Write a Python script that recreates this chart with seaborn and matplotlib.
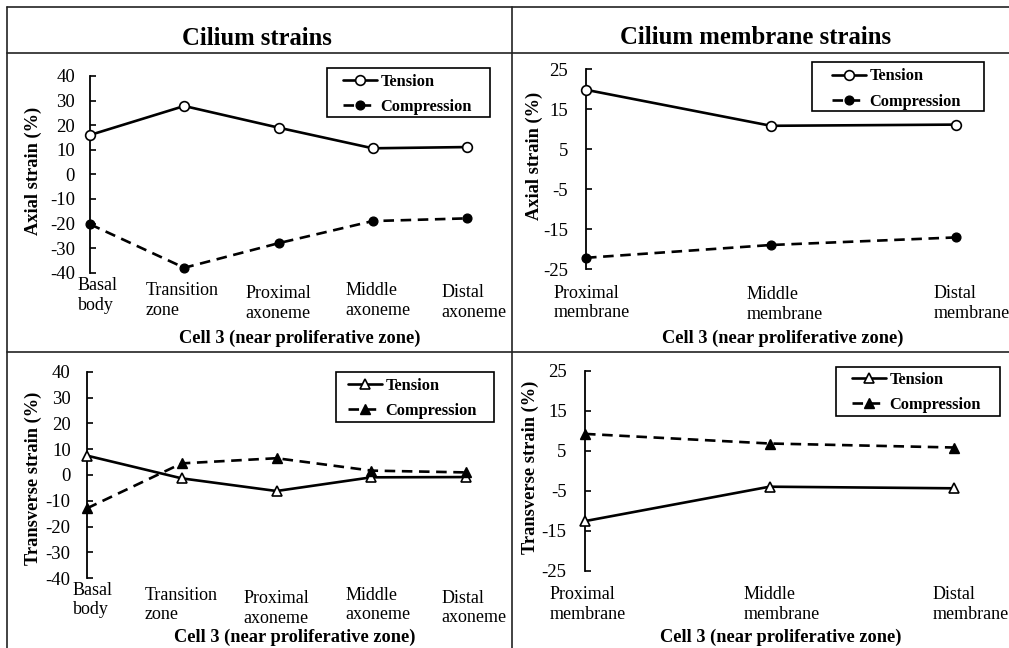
import numpy as np
import pandas as pd
import matplotlib
matplotlib.use("Agg")
import matplotlib.pyplot as plt
from matplotlib.lines import Line2D
from matplotlib.patches import Rectangle
import seaborn as sns

# ---- data -------------------------------------------------------------
cilium_segments = ["Basal\nbody", "Transition\nzone", "Proximal\naxoneme",
                   "Middle\naxoneme", "Distal\naxoneme"]
membrane_segments = ["Proximal\nmembrane", "Middle\nmembrane", "Distal\nmembrane"]

cilium_axial_tension = [16.0, 27.8, 19.0, 10.6, 11.1]
cilium_axial_compression = [-20.3, -38.0, -28.0, -19.0, -17.9]

membrane_axial_tension = [19.8, 10.8, 11.1]
membrane_axial_compression = [-22.2, -19.0, -17.1]

cilium_transverse_tension = [7.5, -1.3, -6.2, -0.9, -0.8]
cilium_transverse_compression = [-12.9, 4.5, 6.5, 1.7, 1.0]

membrane_transverse_tension = [-12.6, -4.0, -4.4]
membrane_transverse_compression = [9.2, 6.8, 5.8]

cilium_yticks = [40, 30, 20, 10, 0, -10, -20, -30, -40]
membrane_yticks = [25, 15, 5, -5, -15, -25]

titles = ["Cilium strains", "Cilium membrane strains"]
xlabel_text = "Cell 3 (near proliferative zone)"
axial_label = "Axial strain (%)"
transverse_label = "Transverse strain (%)"

# ---- style ------------------------------------------------------------
sns.set_theme(style="white")
plt.rcParams["font.family"] = ["Liberation Serif", "DejaVu Serif"]
plt.rcParams["text.color"] = "black"
plt.rcParams["axes.labelcolor"] = "black"

W, H = 1009, 648
fig = plt.figure(figsize=(W / 100, H / 100), dpi=100)
fig.patch.set_facecolor("white")


def fx(px):
    return px / W


def fy(py):
    return 1 - py / H


def make_axes(left, top, right, bottom):
    ax = fig.add_axes([fx(left), fy(bottom), (right - left) / W, (bottom - top) / H])
    ax.set_facecolor("none")
    return ax, (left, top, right, bottom)


def to_axes(box, px, py):
    left, top, right, bottom = box
    return (px - left) / (right - left), (bottom - py) / (bottom - top)


LW = 1.9
DASH = (0, (4, 2.5))


def draw_panel(ax, box, segments, tension, compression, marker, yticks, ylim,
               xmax, ylabel, ylabel_xy, xlabel_xy, label_offsets, ytick_pad,
               legend_xy, legend_box, t_ms, c_ms):
    pos = np.arange(len(segments))
    df_t = pd.DataFrame({"pos": pos, "strain": tension})
    df_c = pd.DataFrame({"pos": pos, "strain": compression})

    sns.lineplot(data=df_t, x="pos", y="strain", ax=ax, color="black",
                 lw=LW, marker=marker, markersize=t_ms, markerfacecolor="white",
                 markeredgecolor="black", markeredgewidth=1.2,
                 errorbar=None, sort=False, clip_on=False, zorder=4,
                 label="Tension")
    sns.lineplot(data=df_c, x="pos", y="strain", ax=ax, color="black",
                 lw=LW, linestyle=DASH, marker=marker, markersize=c_ms,
                 markerfacecolor="black", markeredgecolor="black",
                 markeredgewidth=1.0, errorbar=None, sort=False,
                 clip_on=False, zorder=4, label="Compression")

    ax.set_xlim(0, xmax)
    ax.set_ylim(*ylim)
    ax.set_yticks(yticks)
    ax.set_yticklabels([str(t) for t in yticks])
    ax.set_xticks([])
    for side in ["top", "right", "bottom"]:
        ax.spines[side].set_visible(False)
    ax.spines["left"].set_color("black")
    ax.spines["left"].set_linewidth(1.3)
    ax.tick_params(axis="y", direction="in", length=4, width=1.2,
                   colors="black", labelsize=13.5, pad=ytick_pad, left=True)

    # category names under each position
    for i, (name, (dx, dy)) in enumerate(zip(segments, label_offsets)):
        ax.annotate(name, xy=(i, 0), xycoords=("data", "axes fraction"),
                    xytext=(dx, -dy), textcoords="offset pixels",
                    ha="center", va="top", multialignment="left",
                    fontsize=13, linespacing=1.2, annotation_clip=False)

    ax.set_ylabel(ylabel, fontsize=13.2, fontweight="bold", va="center")
    ax.yaxis.set_label_coords(*to_axes(box, *ylabel_xy))
    ax.set_xlabel(xlabel_text, fontsize=13.2, fontweight="bold", va="center")
    ax.xaxis.set_label_coords(*to_axes(box, *xlabel_xy))

    handles = ax.lines[-2:]
    ax.legend(handles=handles, labels=["Tension", "Compression"],
              loc="upper left", bbox_to_anchor=(fx(legend_xy[0]), fy(legend_xy[1])),
              bbox_transform=fig.transFigure, frameon=False, borderpad=0,
              borderaxespad=0, handlelength=2.05, handletextpad=0.25,
              labelspacing=0.56, prop={"weight": "bold", "size": 11.8})
    x0, y0, x1, y1 = legend_box
    fig.add_artist(Rectangle((fx(x0), fy(y1)), (x1 - x0) / W, (y1 - y0) / H,
                             transform=fig.transFigure, fill=False,
                             edgecolor="black", linewidth=1.2))


# ---- four panels ------------------------------------------------------
ax_tl, box_tl = make_axes(90, 76, 90 + 4.2 * 94.25, 272.7)
draw_panel(ax_tl, box_tl, cilium_segments, cilium_axial_tension,
           cilium_axial_compression, "o", cilium_yticks, (-40, 40), 4.2,
           axial_label, (33.5, 171), (300, 338.5),
           [(8, 4.5), (-2, 9.5), (0, 12.5), (5.5, 9.5), (7, 11.5)], 10.8,
           (343, 73.5), (327, 68, 490, 117), 7.0, 6.3)

ax_tr, box_tr = make_axes(586, 69, 586 + 2.2 * 185, 269)
draw_panel(ax_tr, box_tr, membrane_segments, membrane_axial_tension,
           membrane_axial_compression, "o", membrane_yticks, (-25, 25), 2.2,
           axial_label, (534, 155.5), (782.5, 338.5),
           [(6, 15.5), (14, 17), (16, 16.5)], 12.7,
           (832, 68.5), (812, 62, 984, 111), 7.0, 6.3)

ax_bl, box_bl = make_axes(87, 371.7, 87 + 4.2 * 94.75, 578.3)
draw_panel(ax_bl, box_bl, cilium_segments, cilium_transverse_tension,
           cilium_transverse_compression, "^", cilium_yticks, (-40, 40), 4.2,
           transverse_label, (33, 478), (295, 637.5),
           [(6, 3.5), (-1, 8.5), (0, 12), (6.5, 8.5), (8, 11.5)], 11.7,
           (348, 377.5), (336, 372, 494, 422), 7.5, 7.0)

ax_br, box_br = make_axes(585, 370.7, 585 + 2.2 * 184.5, 570.7)
draw_panel(ax_br, box_br, membrane_segments, membrane_transverse_tension,
           membrane_transverse_compression, "^", membrane_yticks, (-25, 25), 2.2,
           transverse_label, (530, 467), (781, 637.5),
           [(3, 15.5), (12, 15.5), (17, 15.5)], 13.2,
           (852, 371.5), (836, 367, 1000, 416), 7.5, 7.0)

# ---- table frame and column titles ------------------------------------
frame_kw = dict(transform=fig.transFigure, color="#222222", linewidth=1.2)
fig.add_artist(Line2D([fx(7), fx(W)], [fy(7), fy(7)], **frame_kw))
fig.add_artist(Line2D([fx(7), fx(W)], [fy(52.7), fy(52.7)], **frame_kw))
fig.add_artist(Line2D([fx(7), fx(W)], [fy(351.7), fy(351.7)], **frame_kw))
fig.add_artist(Line2D([fx(7.3), fx(7.3)], [fy(7), fy(H)], **frame_kw))
fig.add_artist(Line2D([fx(512.3), fx(512.3)], [fy(7), fy(H)], **frame_kw))

fig.text(fx(257), fy(45), titles[0], ha="center", va="baseline",
         fontsize=17.7, fontweight="bold")
fig.text(fx(756), fy(44.5), titles[1], ha="center", va="baseline",
         fontsize=17.8, fontweight="bold")

fig.savefig("out.png", dpi=100, facecolor="white")
